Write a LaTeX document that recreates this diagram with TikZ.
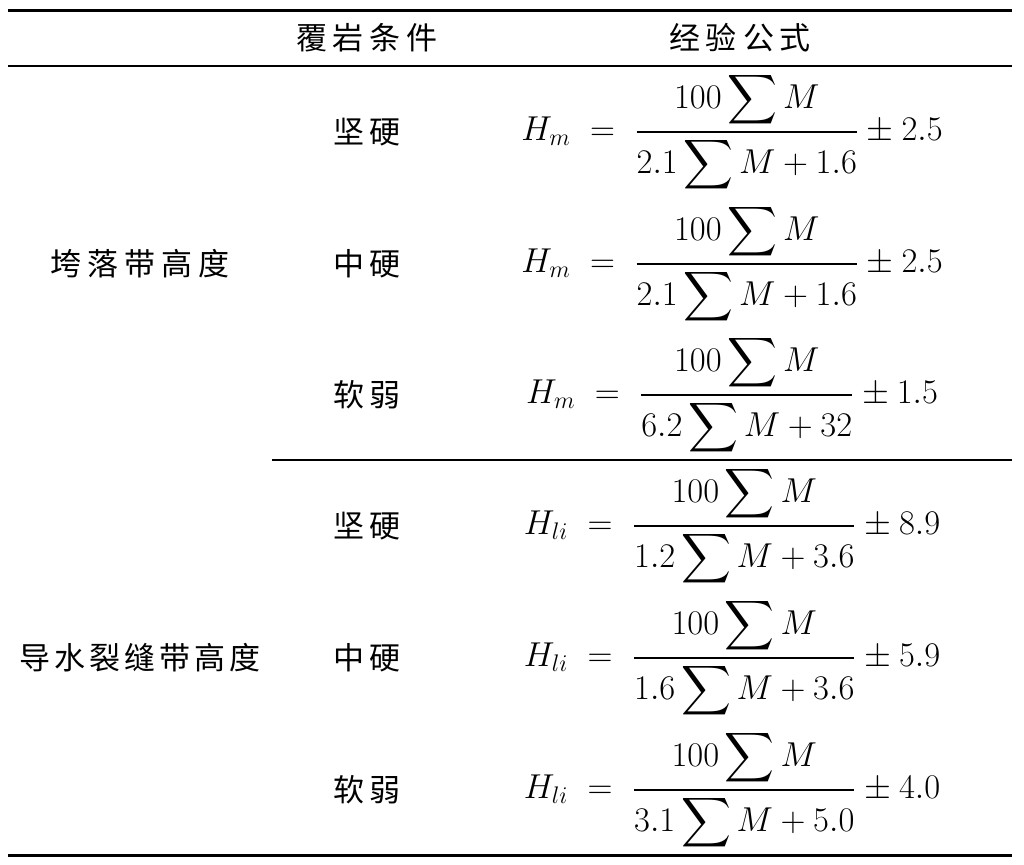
\documentclass[tikz,border=0pt]{standalone}
\usepackage{amsmath}
\usepackage{fontspec}
\newfontfamily\cjk{Noto Sans CJK SC}
\newcommand\myf[4]{$\displaystyle H_{#1}\;=\;\frac{100\displaystyle\sum M}{#2\displaystyle\sum M+#3}\pm#4$}
\begin{document}
\begin{tikzpicture}[x=0.5pt,y=-0.5pt,
  cn/.style={font=\cjk\fontsize{15.5}{18}\selectfont},
  fm/.style={font=\fontsize{17}{20}\selectfont}]
\useasboundingbox (0,0) rectangle (1024,864);
\draw[line width=1.5pt] (8,10) -- (1012,10);
\draw[line width=0.6pt] (8,66) -- (1012,66);
\draw[line width=0.6pt] (272,460) -- (1012,460);
\draw[line width=1.5pt] (8,855) -- (1012,855);
\node[cn] (h1) at (367,38) {覆\hspace{3pt}岩\hspace{3pt}条\hspace{3pt}件};
\node[cn] (h2) at (740,38) {经\hspace{3pt}验\hspace{3pt}公\hspace{3pt}式};
\node[cn] (l1) at (140,264) {垮\hspace{3pt}落\hspace{3pt}带\hspace{3pt}高\hspace{3pt}度};
\node[cn] (l2) at (140,658) {导\hspace{2pt}水\hspace{2pt}裂\hspace{2pt}缝\hspace{2pt}带\hspace{2pt}高\hspace{2pt}度};
\foreach \y/\t in {132/坚\hspace{3pt}硬,264/中\hspace{3pt}硬,395/软\hspace{3pt}弱,526/坚\hspace{3pt}硬,658/中\hspace{3pt}硬,790/软\hspace{3pt}弱}
  \node[cn] at (367,\y) {\t};
\node[fm] (f1) at (732,132) {\myf{m}{2.1}{1.6}{2.5}};
\node[fm] (f2) at (732,264) {\myf{m}{2.1}{1.6}{2.5}};
\node[fm] (f3) at (732,395) {\myf{m}{6.2}{32}{1.5}};
\node[fm] (f4) at (732,526) {\myf{li}{1.2}{3.6}{8.9}};
\node[fm] (f5) at (732,658) {\myf{li}{1.6}{3.6}{5.9}};
\node[fm] (f6) at (732,790) {\myf{li}{3.1}{5.0}{4.0}};
\end{tikzpicture}
\end{document}
